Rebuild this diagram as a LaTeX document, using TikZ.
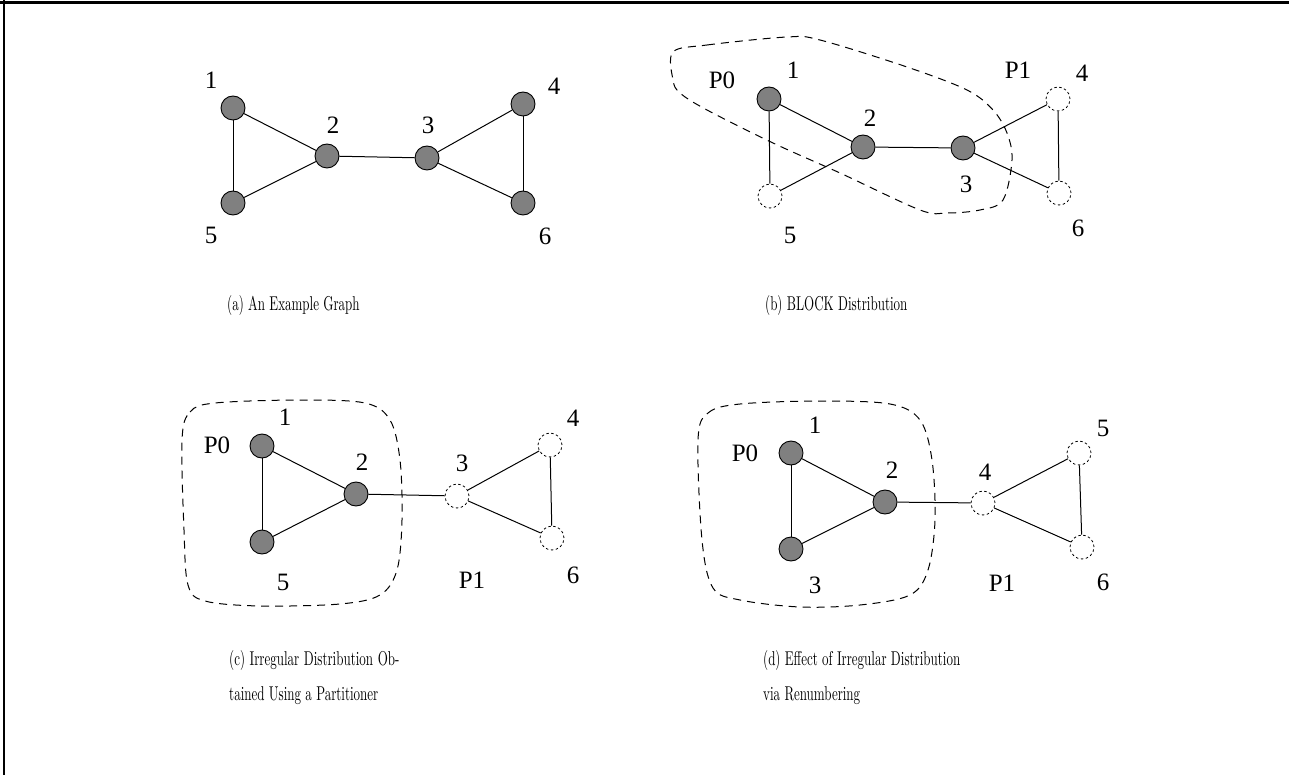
\documentclass[tikz,border=0pt]{standalone}
\usepackage{fontspec}
\newfontfamily\timesf{Liberation Serif}
\definecolor{vgray}{RGB}{128,128,128}
\newcommand{\captxt}[1]{\scalebox{1.3}[2.0]{\fontsize{10}{10}\selectfont #1}}
\begin{document}
\begin{tikzpicture}[x=1pt,y=-1pt,
  vtx/.style={circle,draw=black,fill=vgray,line width=0.9pt,minimum size=24pt,inner sep=0pt},
  ghost/.style={circle,draw=black,fill=white,dash pattern=on 2.5pt off 2.5pt,line width=0.8pt,minimum size=24pt,inner sep=0pt},
  lbl/.style={font=\timesf\fontsize{25}{25}\selectfont,inner sep=0pt},
  captext/.style={inner sep=0pt,anchor=base west},
  edge/.style={line width=1pt},
  blob/.style={line width=1pt,dash pattern=on 8pt off 6pt}]
\useasboundingbox (0,0) rectangle (1289,775);
\draw[line width=2.5pt] (0,2.5) -- (1289,2.5);
\draw[line width=2pt] (4.3,0) -- (4.3,775);

% ---------- (a) ----------
\node[vtx] (a1) at (233,108) {};
\node[vtx] (a5) at (233,203) {};
\node[vtx] (a2) at (327,156) {};
\node[vtx] (a3) at (427,158) {};
\node[vtx] (a4) at (523,104) {};
\node[vtx] (a6) at (523,203) {};
\draw[edge] (a1) -- (a5);
\draw[edge] (a1) -- (a2);
\draw[edge] (a5) -- (a2);
\draw[edge] (a2) -- (a3);
\draw[edge] (a3) -- (a4);
\draw[edge] (a3) -- (a6);
\draw[edge] (a4) -- (a6);
\node[lbl] (la1) at (211,80) {1};
\node[lbl] (la2) at (333,125) {2};
\node[lbl] (la3) at (428,125) {3};
\node[lbl] (la4) at (554,86) {4};
\node[lbl] (la5) at (211,235) {5};
\node[lbl] (la6) at (545,236) {6};
\node[captext] (capa) at (227,311) {\captxt{(a) An Example Graph}};

% ---------- (b) ----------
\draw[blob] plot[smooth cycle, tension=0.55] coordinates {
  (673,52) (707,45) (787,37) (820,40) (907,67) (967,90) (993,110)
  (1007,133) (1012,160) (1003,200) (980,210) (947,213) (920,210)
  (840,173) (773,143) (707,110) (680,93) (673,80)};
\node[vtx] (b1) at (769,99) {};
\node[ghost] (b5) at (770,196) {};
\node[vtx] (b2) at (863,147) {};
\node[vtx] (b3) at (963,148) {};
\node[ghost] (b4) at (1058,99) {};
\node[ghost] (b6) at (1059,193) {};
\draw[edge] (b1) -- (b5);
\draw[edge] (b1) -- (b2);
\draw[edge] (b5) -- (b2);
\draw[edge] (b2) -- (b3);
\draw[edge] (b3) -- (b4);
\draw[edge] (b3) -- (b6);
\draw[edge] (b4) -- (b6);
\node[lbl] (lbp0) at (722,80) {P0};
\node[lbl] (lb1) at (793,70) {1};
\node[lbl] (lb2) at (870,118) {2};
\node[lbl] (lb3) at (966,184) {3};
\node[lbl] (lb5) at (790,235) {5};
\node[lbl] (lbp1) at (1018,70) {P1};
\node[lbl] (lb4) at (1082,73) {4};
\node[lbl] (lb6) at (1078,228) {6};
\node[captext] (capb) at (765,311) {\captxt{(b) BLOCK Distribution}};

% ---------- (c) ----------
\draw[blob] plot[smooth cycle, tension=0.55] coordinates {
  (182,440) (190,412) (215,403) (300,400) (365,403) (390,420) (400,460)
  (402,520) (397,570) (380,595) (340,604) (260,606) (205,601) (188,585) (184,530)};
\node[vtx] (c1) at (262,446) {};
\node[vtx] (c5) at (262,542) {};
\node[vtx] (c2) at (356,494) {};
\node[ghost] (c3) at (457,496) {};
\node[ghost] (c4) at (550,445) {};
\node[ghost] (c6) at (552,538) {};
\draw[edge] (c1) -- (c5);
\draw[edge] (c1) -- (c2);
\draw[edge] (c5) -- (c2);
\draw[edge] (c2) -- (c3);
\draw[edge] (c3) -- (c4);
\draw[edge] (c3) -- (c6);
\draw[edge] (c4) -- (c6);
\node[lbl] (lcp0) at (217,445) {P0};
\node[lbl] (lc1) at (285,417) {1};
\node[lbl] (lc2) at (362,462) {2};
\node[lbl] (lc3) at (462,463) {3};
\node[lbl] (lc4) at (573,418) {4};
\node[lbl] (lc5) at (283,582) {5};
\node[lbl] (lcp1) at (472,580) {P1};
\node[lbl] (lc6) at (573,575) {6};
\node[captext] (capc1) at (229,665) {\captxt{\makebox[131pt][s]{(c) Irregular Distribution Ob-}}};
\node[captext] (capc2) at (229,700) {\captxt{tained Using a Partitioner}};

% ---------- (d) ----------
\draw[blob] plot[smooth cycle, tension=0.55] coordinates {
  (698,440) (708,413) (740,404) (820,401) (890,404) (920,420) (932,460)
  (935,520) (928,570) (910,595) (860,605) (800,607) (740,600) (713,588) (702,540)};
\node[vtx] (d1) at (791,453) {};
\node[vtx] (d3) at (791,549) {};
\node[vtx] (d2) at (885,502) {};
\node[ghost] (d4) at (983,503) {};
\node[ghost] (d5) at (1079,453) {};
\node[ghost] (d6) at (1082,547) {};
\draw[edge] (d1) -- (d3);
\draw[edge] (d1) -- (d2);
\draw[edge] (d3) -- (d2);
\draw[edge] (d2) -- (d4);
\draw[edge] (d4) -- (d5);
\draw[edge] (d4) -- (d6);
\draw[edge] (d5) -- (d6);
\node[lbl] (ldp0) at (745,453) {P0};
\node[lbl] (ld1) at (815,425) {1};
\node[lbl] (ld2) at (892,470) {2};
\node[lbl] (ld4) at (985,472) {4};
\node[lbl] (ld5) at (1103,428) {5};
\node[lbl] (ld3) at (815,585) {3};
\node[lbl] (ldp1) at (1002,583) {P1};
\node[lbl] (ld6) at (1103,582) {6};
\node[captext] (capd1) at (763,665) {\captxt{(d) Effect of Irregular Distribution}};
\node[captext] (capd2) at (763,700) {\captxt{via Renumbering}};
\end{tikzpicture}
\end{document}
